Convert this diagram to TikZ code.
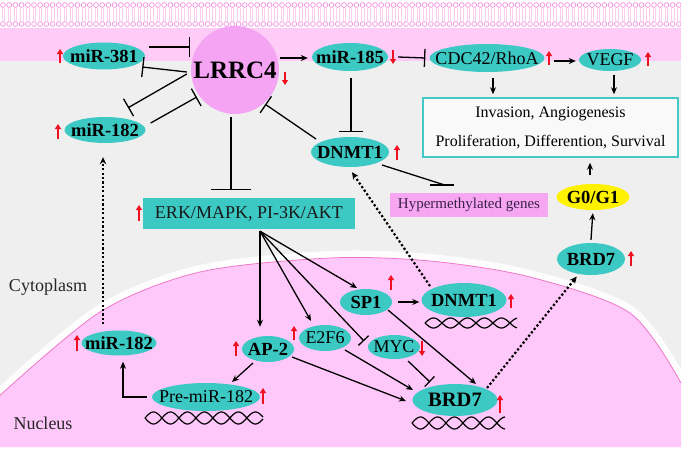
\documentclass[tikz,border=0pt]{standalone}
\usepackage{fontspec}
\setmainfont{Liberation Serif}
\usetikzlibrary{shapes.geometric,arrows.meta,calc}
\newcommand\myfs[1]{\fontsize{#1}{#1}\selectfont}
\newcommand\ctext[1]{\makebox[0pt]{#1}}
\definecolor{bggray}{HTML}{EFEFEF}
\definecolor{bandpink}{HTML}{FFCCF8}
\definecolor{nucpink}{HTML}{FFC8FA}
\definecolor{nucedge}{HTML}{F078C8}
\definecolor{memc}{HTML}{F58FE0}
\definecolor{lrrcc}{HTML}{F5A3F3}
\definecolor{hyperc}{HTML}{F7A7F2}
\definecolor{tealc}{HTML}{3CC8C3}
\definecolor{boxc}{HTML}{45C8C8}
\definecolor{redc}{HTML}{F01020}
\definecolor{hypertext}{HTML}{3A1F4A}
\begin{document}
\begin{tikzpicture}[x=1pt,y=-1pt,
  ell/.style={ellipse,fill=tealc,inner sep=0pt},
  bfnode/.style={font=\myfs{18.5}\bfseries},
  rmnode/.style={font=\myfs{18}},
  arr/.style={line width=1.3pt,-{Stealth[length=7pt,width=6pt]}},
  inh/.style={line width=1.3pt,-{Bar[width=#1]}}, inh/.default=18pt,
  dotarr/.style={line width=2.2pt,dash pattern=on 2.2pt off 2.2pt,-{Stealth[length=7pt,width=6.5pt]}},
  redup/.style={draw=redc,line width=1.8pt,-{Triangle[length=5pt,width=6pt]}},
  helix/.style={line width=1.2pt}
]
\useasboundingbox (0,0) rectangle (685,450);
\fill[white] (0,0) rectangle (685,450);
% cytoplasm background
\fill[bggray] (0,28) rectangle (681,447);
\fill[bandpink] (0,28) rectangle (681,61);
% membrane
\begin{scope}
\clip (0,0) rectangle (681,28);
\foreach \i in {0,...,110}{
  \draw[memc!45, line width=0.6pt] (\i*6.2+1.8,8) -- (\i*6.2+1.8,21);
  \draw[memc!45, line width=0.6pt] (\i*6.2+4.2,8) -- (\i*6.2+4.2,21);
  \draw[memc, line width=0.7pt] (\i*6.2+3,5) circle (2.4pt);
  \draw[memc, line width=0.7pt] (\i*6.2+3,24) circle (2.4pt);
}
\end{scope}
% nucleus
\draw[white, line width=14pt, opacity=0.9] plot[smooth] coordinates {(-4,399) (100,312) (200,272) (330,258) (430,261) (530,277) (630,313) (681,383)};
\fill[nucpink] plot[smooth] coordinates {(-4,399) (100,312) (200,272) (330,258) (430,261) (530,277) (630,313) (681,383)} -- (681,447) -- (-4,447) -- cycle;
\draw[nucedge, line width=0.8pt] plot[smooth] coordinates {(-4,399) (100,312) (200,272) (330,258) (430,261) (530,277) (630,313) (681,383)};

% compartment labels
\node[font=\myfs{18}, text=black!85] (cyto) at (48,287) {Cytoplasm};
\node[font=\myfs{18}, text=black!85] (nuc) at (43,423) {Nucleus};

% nodes
\node[circle,fill=lrrcc,minimum size=88pt,inner sep=0pt,font=\myfs{25}\bfseries] (lrrc4) at (235,70) {\ctext{LRRC4}};
\node[ell,bfnode,minimum width=82pt,minimum height=27pt] (mir381) at (104,56) {\ctext{miR-381}};
\node[ell,bfnode,minimum width=81pt,minimum height=26pt] (mir182a) at (105,130) {\ctext{miR-182}};
\node[ell,bfnode,minimum width=76pt,minimum height=28pt] (mir185) at (350,57) {\ctext{miR-185}};
\node[ell,rmnode,minimum width=115pt,minimum height=28pt] (cdc) at (487,58) {\ctext{CDC42/RhoA}};
\node[ell,rmnode,minimum width=62pt,minimum height=22pt] (vegf) at (610,60) {\ctext{VEGF}};
\node[rectangle,draw=boxc,line width=1.5pt,fill=white!60!bggray,minimum width=255pt,minimum height=59pt,inner sep=0pt,align=center,font=\fontsize{16}{29}\selectfont] (box) at (550.5,127.5) {Invasion, Angiogenesis\\Proliferation, Differention, Survival};
\node[ell,bfnode,minimum width=78pt,minimum height=30pt] (dnmt1a) at (350,152) {\ctext{DNMT1}};
\node[rectangle,fill=hyperc,minimum width=158pt,minimum height=24pt,inner sep=0pt,font=\myfs{15},text=hypertext] (hyper) at (469,205) {Hypermethylated genes};
\node[ellipse,fill=yellow,inner sep=0pt,bfnode,minimum width=73pt,minimum height=26pt] (g0) at (593,197) {\ctext{G0/G1}};
\node[ell,bfnode,minimum width=68pt,minimum height=32pt] (brd7a) at (591,259) {\ctext{BRD7}};
\node[rectangle,fill=tealc,minimum width=212pt,minimum height=31pt,inner sep=0pt,rmnode,text=black!90] (erk) at (249,213.5) {ERK/MAPK, PI-3K/AKT};
\node[ell,bfnode,minimum width=52pt,minimum height=26pt] (sp1) at (366,302) {\ctext{SP1}};
\node[ell,bfnode,minimum width=85pt,minimum height=34pt] (dnmt1b) at (464,300) {\ctext{DNMT1}};
\node[ell,rmnode,minimum width=52pt,minimum height=24pt] (myc) at (394,347) {\ctext{MYC}};
\node[ell,rmnode,minimum width=52pt,minimum height=26pt] (e2f6) at (325,338) {\ctext{E2F6}};
\node[ell,bfnode,minimum width=52pt,minimum height=26pt] (ap2) at (268,349) {\ctext{AP-2}};
\node[ell,font=\myfs{20.5}\bfseries,minimum width=85pt,minimum height=32pt] (brd7b) at (455,400) {\ctext{BRD7}};
\node[ell,rmnode,minimum width=108pt,minimum height=28pt] (premir) at (206,397) {\ctext{Pre-miR-182}};
\node[ell,bfnode,minimum width=75pt,minimum height=25pt] (mir182b) at (119,343) {\ctext{miR-182}};

% DNA helices
\foreach \xa/\len/\yc/\am in {145/118/418/6, 425/92/323/5, 412/93/423/6}{
  \draw[helix] plot[domain=0:\len,samples=120,smooth] ({\xa+\x},{\yc+\am*sin(10.6*\x)});
  \draw[helix] plot[domain=0:\len,samples=120,smooth] ({\xa+\x},{\yc-\am*sin(10.6*\x)});
}

% connectors around LRRC4
\draw[inh=20pt] ([shift={(4,-9)}]mir381.east) -- ([shift={(-1,-23)}]lrrc4.west);
\draw[inh=20pt] ([shift={(-4,2)}]lrrc4.west) -- ([shift={(-3,11)}]mir381.east);
\draw[inh=20pt] ([shift={(-4,4)}]lrrc4.west) -- ([shift={(23,-9)}]mir182a.north);
\draw[inh=20pt] ([shift={(5,-7)}]mir182a.east) -- ([shift={(6,27)}]lrrc4.west);
\draw[inh=20pt] ([shift={(-34,-13)}]dnmt1a.center) -- ([shift={(-1,3)}]lrrc4.south east);
\coordinate (lrs) at ([shift={(-4,3)}]lrrc4.south);
\draw[inh=40pt,shorten >=8pt] (lrs) -- (lrs |- erk.north);
\coordinate (lre) at ([shift={(1,-12)}]lrrc4.east);
\draw[arr,shorten >=4pt] (lre) -- (lre -| mir185.west);
\draw[inh=18pt] ([xshift=10pt]mir185.east) -- ([xshift=-4pt]cdc.west);
\draw[arr] ([shift={(9,3)}]cdc.east) -- ([shift={(-3,1)}]vegf.west);
\coordinate (cds) at ([shift={(6,6)}]cdc.south);
\draw[arr,shorten >=3pt] (cds) -- (cds |- box.north);
\coordinate (vgs) at ([shift={(4,4)}]vegf.south);
\draw[arr,shorten >=3pt] (vgs) -- (vgs |- box.north);
\coordinate (m185s) at ([shift={(1,7)}]mir185.south);
\draw[inh=24pt,shorten >=5pt] (m185s) -- (m185s |- dnmt1a.north);
% DNMT1 -| hypermethylated genes (horizontal bar)
\coordinate (hyb) at ([shift={(-25,-8)}]hyper.north);
\draw[line width=1.3pt] ([shift={(32,13)}]dnmt1a.center) -- (hyb);
\draw[line width=1.5pt] ([xshift=-14pt]hyb) -- ([xshift=10pt]hyb);
\coordinate (g0n) at ([shift={(-3,-9)}]g0.north);
\draw[arr,shorten >=5pt] (g0n) -- (g0n |- box.south);
\draw[arr,shorten >=3pt] ([shift={(0,-3)}]brd7a.north) -- (g0.south);

% dotted
\draw[dotarr,shorten >=2pt] ([shift={(32,-12)}]brd7b.center) -- ([shift={(-13,16)}]brd7a.center);
\draw[dotarr] ([shift={(-34,-14)}]dnmt1b.center) -- ([shift={(2,5)}]dnmt1a.south);
\draw[dotarr] ([shift={(-16,-6)}]mir182b.north) -- ([shift={(-2,14)}]mir182a.south);

% ERK fan
\coordinate (erkp) at ([shift={(11,2)}]erk.south);
\draw[arr,shorten >=9pt] (erkp) -- (erkp |- ap2.north);
\draw[arr] (erkp) -- ([shift={(-14,-17)}]e2f6.center);
\draw[inh=14pt] (erkp) -- ([shift={(-30,-6)}]myc.center);
\draw[arr] (erkp) -- ([shift={(-9,-14)}]sp1.center);

% nucleus connectors
\coordinate (sp1e) at ([xshift=6pt]sp1.east);
\draw[arr,shorten >=2pt] (sp1e) -- (sp1e -| dnmt1b.west);
\draw[arr] ([shift={(22,8)}]sp1.center) -- ([shift={(21,-16)}]brd7b.center);
\draw[inh=14pt] ([shift={(14,14)}]myc.center) -- ([shift={(-25,-18)}]brd7b.center);
\draw[arr] ([shift={(20,12)}]e2f6.center) -- ([shift={(-42,-10)}]brd7b.center);
\draw[arr] ([shift={(24,8)}]ap2.center) -- ([shift={(-49,1)}]brd7b.center);
\draw[arr] ([shift={(-15,14)}]ap2.center) -- ([shift={(26,-15)}]premir.center);
\draw[arr] ([xshift=-5pt]premir.west) -| ([shift={(4,6)}]mir182b.south);

% red up/down indicators
\draw[redup] (60,63) -- (60,49);
\draw[redup] (285,72) -- (285,85);
\draw[redup] (58,139) -- (58,124);
\draw[redup] (393,50) -- (393,64);
\draw[redup] (549,65) -- (549,51);
\draw[redup] (648,66) -- (648,52);
\draw[redup] (397,160) -- (397,145);
\draw[redup] (139,221) -- (139,205);
\draw[redup] (631,266) -- (631,251);
\draw[redup] (391,290) -- (391,275);
\draw[redup] (511,308) -- (511,294);
\draw[redup] (422,341) -- (422,356);
\draw[redup] (294,340) -- (294,326);
\draw[redup] (236,356) -- (236,341);
\draw[redup] (500,413) -- (500,395);
\draw[redup] (263,404) -- (263,388);
\draw[redup] (77,351) -- (77,335);
\end{tikzpicture}
\end{document}
